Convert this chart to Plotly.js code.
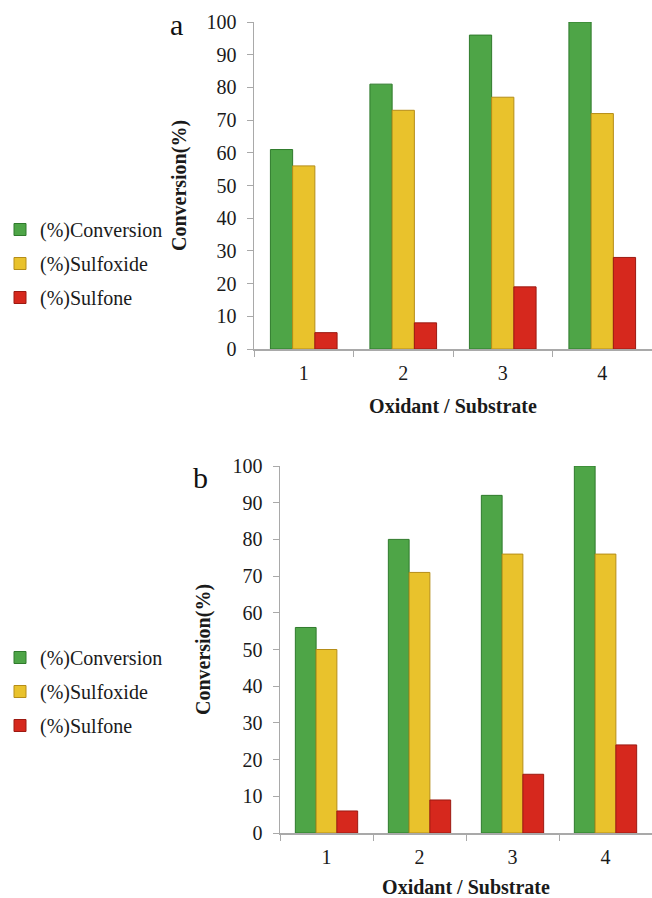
<!DOCTYPE html>
<html>
<head>
<meta charset="utf-8">
<script src="https://cdn.plot.ly/plotly-3.0.1.min.js"></script>
<style>html,body{margin:0;padding:0;background:#fff;}#chart{width:652px;height:898px;}</style>
</head>
<body>
<div id="chart"></div>
<script>
// ---- data ----
const categories = ['1', '2', '3', '4'];
const seriesNames = ['(%)Conversion', '(%)Sulfoxide', '(%)Sulfone'];
// panel a
const convA = [61, 81, 96, 100];
const sulfoxideA = [56, 73, 77, 72];
const sulfoneA = [5, 8, 19, 28];
// panel b
const convB = [56, 80, 92, 100];
const sulfoxideB = [50, 71, 76, 76];
const sulfoneB = [6, 9, 16, 24];
const yTicks = [0, 10, 20, 30, 40, 50, 60, 70, 80, 90, 100];

// ---- styles ----
const fills = ['#4ea547', '#e9c22c', '#d6281d'];
const edges = ['#2f7a2c', '#b58d18', '#9c1a12'];
const serif = 'Liberation Serif';

function bars(vals, idx, xa, ya, leg) {
  return {
    type: 'bar', x: categories, y: vals, name: seriesNames[idx],
    xaxis: xa, yaxis: ya, legend: leg, legendgroup: leg + idx,
    marker: {color: fills[idx], line: {color: edges[idx], width: 1}},
    hoverinfo: 'y'
  };
}

const data = [
  bars(convA, 0, 'x', 'y', 'legend'),
  bars(sulfoxideA, 1, 'x', 'y', 'legend'),
  bars(sulfoneA, 2, 'x', 'y', 'legend'),
  bars(convB, 0, 'x2', 'y2', 'legend2'),
  bars(sulfoxideB, 1, 'x2', 'y2', 'legend2'),
  bars(sulfoneB, 2, 'x2', 'y2', 'legend2')
];

const axisLine = '#a9a9a9';
function xAxis(dom, anchor, standoff) {
  return {
    domain: dom, anchor: anchor, type: 'category', range: [-0.5, 3.5],
    showline: true, linecolor: axisLine, linewidth: 1.5,
    ticks: 'outside', tickson: 'boundaries', ticklen: 6, tickcolor: axisLine,
    ticklabelstandoff: 5,
    showgrid: false, zeroline: false, fixedrange: true,
    tickfont: {family: serif, size: 20, color: '#1a1a1a'},
    title: {text: '<b>Oxidant / Substrate</b>', font: {family: serif, size: 20, color: '#1a1a1a'}, standoff: standoff}
  };
}
function yAxis(dom, anchor, standoff) {
  return {
    domain: dom, anchor: anchor, range: [0, 100], tickvals: yTicks,
    showline: true, linecolor: axisLine, linewidth: 1.5,
    ticks: 'outside', ticklen: 6, tickcolor: axisLine, ticklabelstandoff: 6,
    showgrid: false, zeroline: false, fixedrange: true,
    tickfont: {family: serif, size: 20, color: '#1a1a1a'},
    title: {text: '<b>Conversion(%)</b>', font: {family: serif, size: 20, color: '#1a1a1a'}, standoff: standoff}
  };
}

const legendBase = {
  xanchor: 'left', yanchor: 'top', bgcolor: 'rgba(0,0,0,0)',
  font: {family: serif, size: 20, color: '#1a1a1a'},
  traceorder: 'grouped', tracegroupgap: 5, itemwidth: 30
};

const layout = {
  width: 652, height: 898,
  margin: {l: 0, r: 0, t: 0, b: 0},
  paper_bgcolor: '#fff', plot_bgcolor: '#fff',
  barmode: 'group', bargap: 0.33, bargroupgap: 0,
  showlegend: true,
  xaxis: xAxis([254 / 652, 1], 'y', 16),
  yaxis: yAxis([1 - 349 / 898, 1 - 22 / 898], 'x', 14),
  xaxis2: xAxis([280 / 652, 1], 'y2', 18),
  yaxis2: yAxis([1 - 833 / 898, 1 - 466 / 898], 'x2', 16),
  legend: Object.assign({x: 0, y: 1 - 210 / 898}, legendBase),
  legend2: Object.assign({x: 0, y: 1 - 638 / 898}, legendBase),
  annotations: [
    {text: 'a', xref: 'paper', yref: 'paper', x: 176 / 652, y: 1 - 25 / 898, showarrow: false,
     font: {family: serif, size: 30, color: '#111'}, xanchor: 'center', yanchor: 'middle'},
    {text: 'b', xref: 'paper', yref: 'paper', x: 200 / 652, y: 1 - 477 / 898, showarrow: false,
     font: {family: serif, size: 30, color: '#111'}, xanchor: 'center', yanchor: 'middle'}
  ]
};

Plotly.newPlot('chart', data, layout, {displayModeBar: false, staticPlot: true});
</script>
</body>
</html>
